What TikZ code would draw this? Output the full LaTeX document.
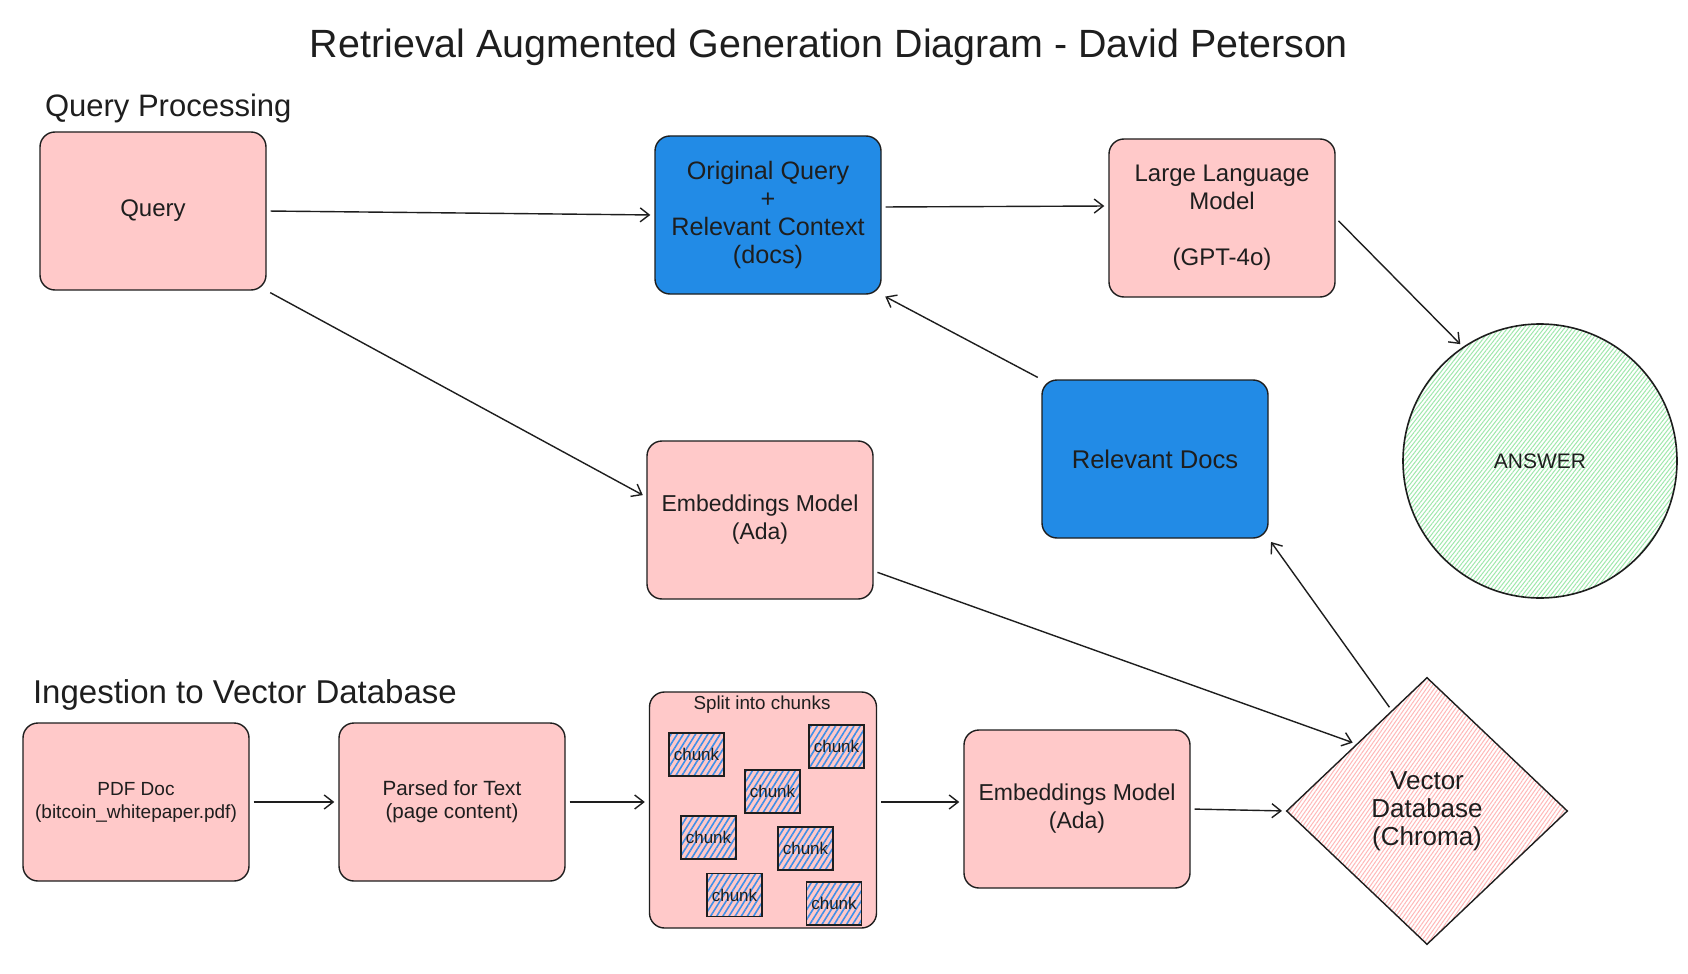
\documentclass[tikz,border=0pt]{standalone}
\usepackage{fontspec}
\setmainfont{Liberation Sans}
\usetikzlibrary{arrows.meta,shapes.geometric,patterns.meta,calc}
\definecolor{ink}{HTML}{1E1E1E}
\definecolor{pinkf}{HTML}{FFC9C9}
\definecolor{bluef}{HTML}{228BE6}
\definecolor{greenh}{HTML}{9FE8AC}
\definecolor{chunkh}{HTML}{3F8FE8}
\definecolor{pinkh}{HTML}{FFB8B8}
\begin{document}
\begin{tikzpicture}[x=0.5pt,y=-0.5pt,
  box/.style={draw=ink, line width=0.7pt, rounded corners=7.5pt, minimum width=113pt, minimum height=79pt, inner sep=0pt, align=center, text=ink, font=\fontsize{12}{14}\selectfont},
  pinkbox/.style={box, fill=pinkf},
  bluebox/.style={box, fill=bluef},
  smallbox/.style={pinkbox, font=\fontsize{9.5}{11.5}\selectfont},
  chunkbox/.style={draw=ink, line width=0.7pt, minimum width=27.5pt, minimum height=21.5pt, inner sep=0pt, pattern={Lines[angle=58,distance=2.6pt,line width=0.8pt]}, pattern color=chunkh, font=\fontsize{8.5}{10}\selectfont, text=ink},
  conn/.style={draw=ink, line width=0.7pt, -{Straight Barb[length=4.5pt,width=7pt]}, shorten >=2pt, shorten <=2pt},
  section/.style={anchor=west, text=ink, font=\fontsize{15.5}{18}\selectfont},
]
\useasboundingbox[fill=white] (0,0) rectangle (1688,974);

\node[text=ink, font=\fontsize{19.7}{22}\selectfont] (title) at (829,47) {Retrieval Augmented Generation Diagram - David Peterson};
\node[section] (qp) at (38,108) {Query Processing};
\node[section, font=\fontsize{16.5}{19}\selectfont] (ing) at (26,695) {Ingestion to Vector Database};

% query processing
\node[pinkbox] (q) at (153,211) {Query};
\node[bluebox, font=\fontsize{12.6}{14}\selectfont] (oq) at (768,215) {Original Query\\+\\Relevant Context\\(docs)};
\node[pinkbox] (llm) at (1222,218) {Large Language\\Model\\~\\(GPT-4o)};
\node[bluebox, font=\fontsize{12.8}{14}\selectfont] (rd) at (1155,459) {Relevant Docs};
\node[pinkbox, font=\fontsize{11.5}{14}\selectfont] (et) at (760,520) {Embeddings Model\\(Ada)};
\node[circle, draw=ink, line width=0.8pt, minimum size=137pt, inner sep=0pt, pattern={Lines[angle=52,distance=1.6pt,line width=0.5pt]}, pattern color=greenh, text=ink, font=\fontsize{10.5}{13}\selectfont] (ans) at (1540,461) {ANSWER};

% ingestion
\node[smallbox] (pdf) at (136,802) {PDF Doc\\(bitcoin\_whitepaper.pdf)};
\node[smallbox, font=\fontsize{10.3}{11.5}\selectfont] (parsed) at (452,802) {Parsed for Text\\(page content)};
\node[pinkbox, minimum width=113.5pt, minimum height=118pt] (split) at (763,810) {};
\node[text=ink, font=\fontsize{9.4}{10}\selectfont] (splitlbl) at (762,705) {Split into chunks};
\node[chunkbox] (c1) at (696.5,754.5) {chunk};
\node[chunkbox] (c2) at (836.5,746.5) {chunk};
\node[chunkbox] (c3) at (772.5,791.5) {chunk};
\node[chunkbox] (c4) at (708.5,837.5) {chunk};
\node[chunkbox] (c5) at (805.5,848.5) {chunk};
\node[chunkbox] (c6) at (734.5,895) {chunk};
\node[chunkbox] (c7) at (834,903.5) {chunk};
\node[pinkbox, font=\fontsize{11.5}{14}\selectfont] (eb) at (1077,809) {Embeddings Model\\(Ada)};
\node[diamond, draw=ink, line width=0.7pt, minimum width=140.5pt, minimum height=133.5pt, inner sep=0pt, pattern={Lines[angle=55,distance=1.6pt,line width=0.5pt]}, pattern color=pinkh, align=center, text=ink, font=\fontsize{13}{14}\selectfont] (vdb) at (1427,811) {Vector\\Database\\(Chroma)};

% connectors
\draw[conn] (q.east) -- (oq.west);
\draw[conn] ($(oq.east)+(0,-8)$) -- ($(llm.west)+(0,-12)$);
\draw[conn] (llm.east) -- (ans.124);
\draw[conn] (rd.north west) -- (oq.south east);
\draw[conn] (q.south east) -- ($(et.west)+(0,-23)$);
\draw[conn] ($(et.east)+(0,51)$) -- (vdb.north west);
\draw[conn] ($(vdb.north)!0.25!(vdb.west)$) -- (rd.south east);
\draw[conn] (pdf.east) -- (parsed.west);
\draw[conn] (parsed.east) -- (split.west |- parsed.east);
\draw[conn] (split.east |- parsed.east) -- (eb.west |- parsed.east);
\draw[conn] (eb.east) -- (vdb.west);
\end{tikzpicture}
\end{document}
